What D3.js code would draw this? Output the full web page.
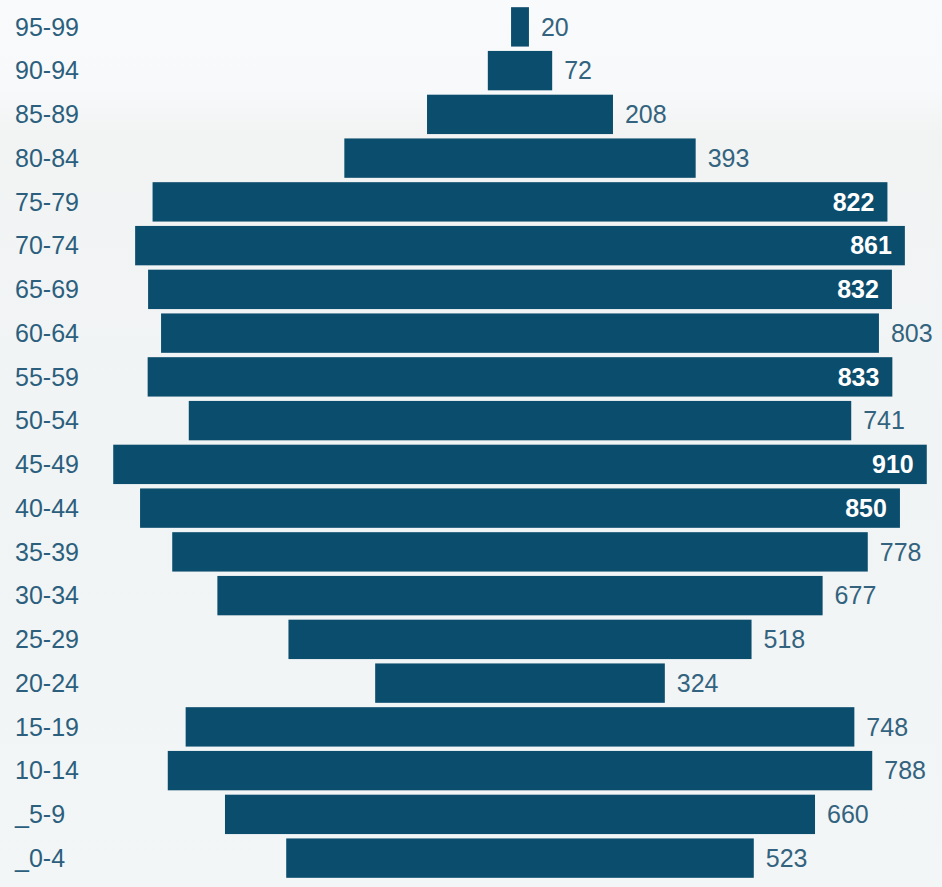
<!DOCTYPE html>
<html>
<head>
<meta charset="utf-8">
<script src="https://cdn.jsdelivr.net/npm/d3@7"></script>
<style>
  html, body { margin: 0; padding: 0; background: #f5f8f9; }
  svg { display: block; }
</style>
</head>
<body>
<svg id="chart" width="942" height="887"></svg>
<script>
const ageGroups = ["95-99","90-94","85-89","80-84","75-79","70-74","65-69","60-64","55-59","50-54",
                   "45-49","40-44","35-39","30-34","25-29","20-24","15-19","10-14","_5-9","_0-4"];
const population = [20,72,208,393,822,861,832,803,833,741,910,850,778,677,518,324,748,788,660,523];

const W = 942, H = 887, cx = 520;
const svg = d3.select("#chart");

const defs = svg.append("defs");
const grad = defs.append("linearGradient").attr("id","bg").attr("x1",0).attr("y1",0).attr("x2",0).attr("y2",1);
grad.append("stop").attr("offset","0").attr("stop-color","#f8fafb");
grad.append("stop").attr("offset","0.1").attr("stop-color","#f7f9fa");
grad.append("stop").attr("offset","0.15").attr("stop-color","#f2f4f4");
grad.append("stop").attr("offset","0.5").attr("stop-color","#f1f4f5");
grad.append("stop").attr("offset","1").attr("stop-color","#f3f6f7");
svg.append("rect").attr("width",W).attr("height",H).attr("fill","url(#bg)");

const y = d3.scaleBand().domain(ageGroups).range([5, 880]).paddingInner(0.1).paddingOuter(0.05);
const w = d3.scaleLinear().domain([0, 1000]).range([0, 894]);

const data = ageGroups.map((g, i) => ({ g, v: population[i] }));

svg.append("g").selectAll("rect").data(data).join("rect")
  .attr("x", d => cx - w(d.v) / 2)
  .attr("y", d => y(d.g))
  .attr("width", d => w(d.v))
  .attr("height", y.bandwidth())
  .attr("fill", "#0b4d6d");

const fontF = "Liberation Sans, Arial, sans-serif";

// category labels
const yAxis = d3.axisLeft(y).tickSize(0).tickPadding(0);
const ag = svg.append("g").attr("transform", "translate(15,0)").call(yAxis);
ag.select(".domain").remove();
ag.selectAll("text")
  .attr("text-anchor", "start")
  .attr("x", 0)
  .attr("dy", "0.35em")
  .attr("font-family", fontF)
  .attr("font-size", 25)
  .attr("fill", "#2b5f7d");

// value labels
const vl = svg.append("g").selectAll("text").data(data).join("text")
  .attr("y", d => y(d.g) + y.bandwidth() / 2)
  .attr("dy", "0.35em")
  .attr("font-family", fontF)
  .attr("font-size", 25)
  .text(d => d.v);

vl.each(function(d) {
  const t = d3.select(this);
  const right = cx + w(d.v) / 2;
  const tw = this.getComputedTextLength();
  if (right + 12 + tw > W - 6) {
    t.attr("x", right - 13).attr("text-anchor", "end")
     .attr("fill", "#ffffff").attr("font-weight", "bold");
  } else {
    t.attr("x", right + 12).attr("text-anchor", "start")
     .attr("fill", "#33637e");
  }
});
</script>
</body>
</html>
